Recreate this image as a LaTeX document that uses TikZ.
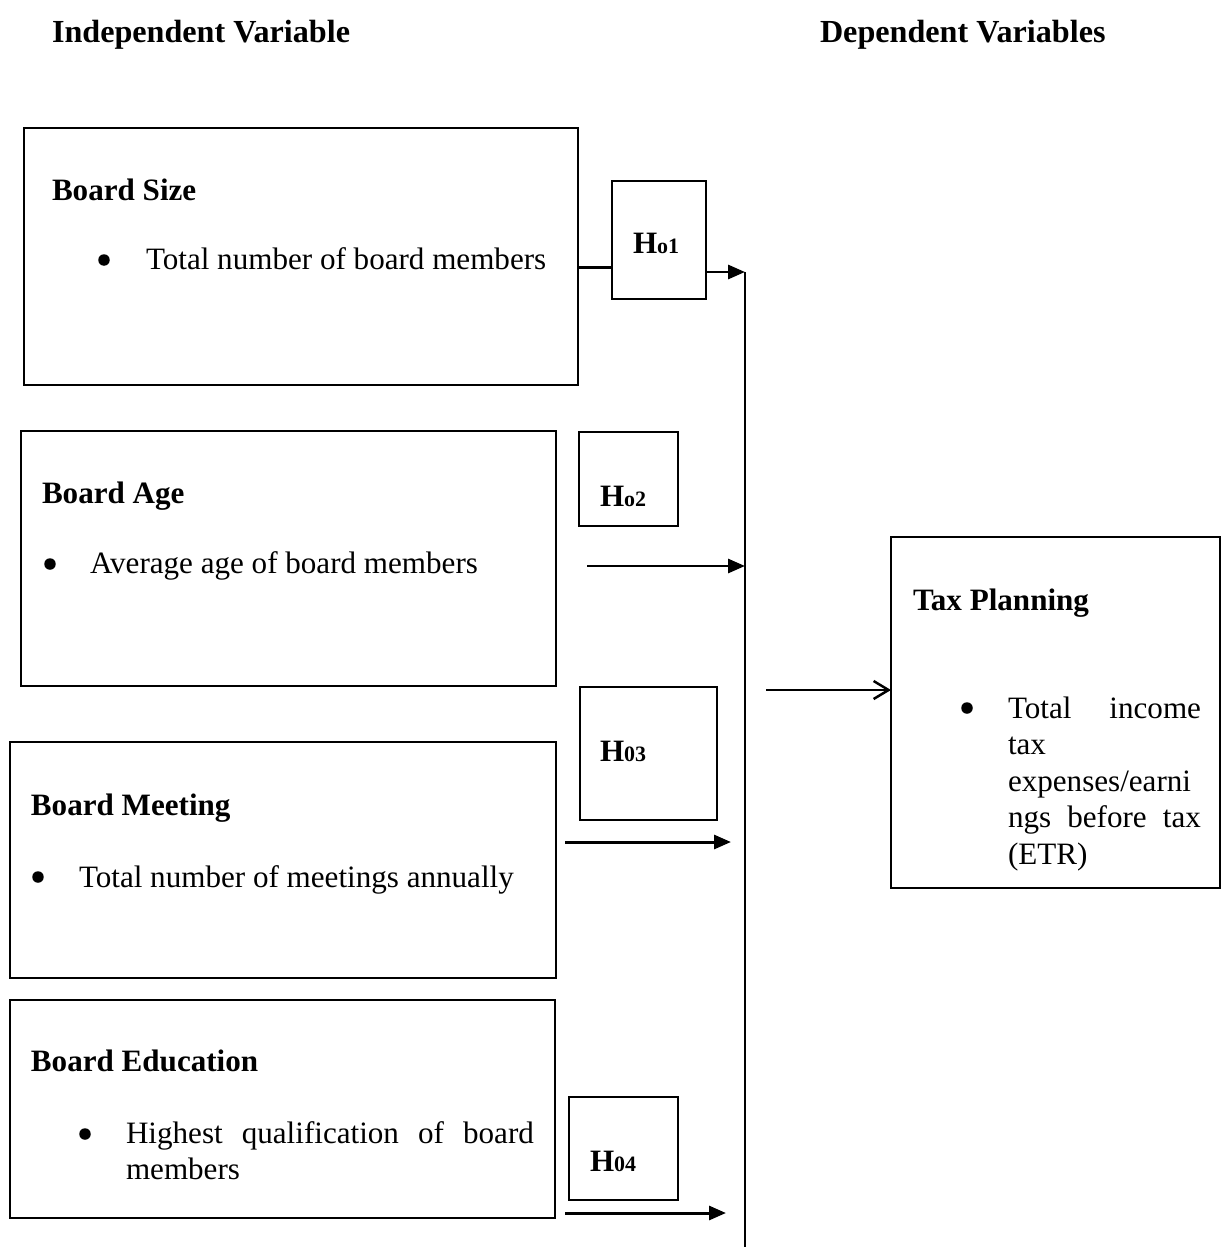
\documentclass[tikz,border=0pt]{standalone}
\usepackage{fontspec}
\setmainfont{Liberation Serif}
\usetikzlibrary{arrows.meta,calc}

\tikzset{
  panel/.style={draw,line width=1.1pt,inner sep=0pt,outer sep=0pt,anchor=north west},
  txt/.style={inner sep=0pt,outer sep=0pt,anchor=base west,font=\fontsize{17.7}{20.8}\selectfont},
  head/.style={txt,font=\fontsize{17.7}{20.8}\selectfont\bfseries},
  tophead/.style={txt,font=\fontsize{18.3}{21.5}\selectfont\bfseries},
  dot/.style={circle,fill,inner sep=0pt,outer sep=0pt,minimum size=0.23cm},
  arr/.style={line width=1.7pt,-{Triangle[length=0.34cm,width=0.28cm]}},
  openarr/.style={line width=1.4pt,-{Straight Barb[length=0.3cm,width=0.36cm,line width=1.4pt]}},
  link/.style={line width=1.4pt},
  spine/.style={line width=0.9pt}
}
\newcommand{\hyp}[1]{H{\fontsize{12.5}{12.5}\selectfont #1}}

\begin{document}
\begin{tikzpicture}[x=0.02cm,y=-0.02cm]

\useasboundingbox (0,0) rectangle (1224,1247);

\node[tophead] (indep) at (52,43) {Independent Variable};

\node[tophead] (dep) at (820,43) {Dependent Variables};

\node[panel,minimum width=11.08cm,minimum height=5.14cm] (sizebox) at (24,128) {};
\node[head] (sizetitle) at (52,200) {Board Size};
\node[dot] (sizedot) at (104,260) {};
\node[txt] (sizeitem) at (146,269) {Total number of board members};

\node[panel,minimum width=10.7cm,minimum height=5.1cm] (agebox) at (21,431) {};
\node[head] (agetitle) at (42,503) {Board Age};
\node[dot] (agedot) at (50,564) {};
\node[txt] (ageitem) at (90,573) {Average age of board members};

\node[panel,minimum width=10.92cm,minimum height=4.72cm] (meetbox) at (10,742) {};
\node[head] (meettitle) at (31,815) {Board Meeting};
\node[dot] (meetdot) at (38,877) {};
\node[txt] (meetitem) at (79,887) {Total number of meetings annually};

\node[panel,minimum width=10.9cm,minimum height=4.36cm] (edubox) at (10,1000) {};
\node[head] (edutitle) at (31,1071) {Board Education};
\node[dot] (edudot) at (85,1134) {};
\node[txt,align=left,text width=8.16cm] (eduitem) at (126,1143)
  {Highest\hfill qualification\hfill of\hfill board\\members};

\node[panel,minimum width=6.58cm,minimum height=7.02cm] (taxbox) at (891,537) {};
\node[head] (taxtitle) at (913,610) {Tax Planning};
\node[dot] (taxdot) at (967,708) {};
\node[txt,align=left,text width=3.86cm] (taxitem) at (1008,718)
  {Total\hfill income\\tax\\expenses/earni\\ngs\hfill before\hfill tax\\(ETR)};

\node[panel,minimum width=1.88cm,minimum height=2.36cm] (h1) at (612,181) {};
\node[head] (h1lab) at (633,253) {\hyp{o1}};

\node[panel,minimum width=1.98cm,minimum height=1.88cm] (h2) at (579,432) {};
\node[head] (h2lab) at (600,506) {\hyp{o2}};

\node[panel,minimum width=2.74cm,minimum height=2.66cm] (h3) at (580,687) {};
\node[head] (h3lab) at (600,761) {\hyp{03}};

\node[panel,minimum width=2.18cm,minimum height=2.06cm] (h4) at (569,1097) {};
\node[head] (h4lab) at (590,1171) {\hyp{04}};

\coordinate (top) at (745,272);
\coordinate (bottom) at (745,1247);
\coordinate (a2) at (587,566);
\coordinate (a3) at (565,842);
\coordinate (a4) at (565,1213);
\coordinate (a5) at (766,690);

\draw[spine] (top) -- (bottom);

\draw[link] ([yshift=-0.22cm]sizebox.east) -- ([yshift=-0.22cm]sizebox.east -| h1.west);

\draw[arr] (h1.east |- top) -- (top);

\draw[arr] (a2) -- (a2 -| top);

\draw[arr] (a3) -- ++(166,0);

\draw[arr] (a4) -- ++(161,0);

\draw[openarr] (a5) -- (a5 -| taxbox.west);

\end{tikzpicture}
\end{document}
